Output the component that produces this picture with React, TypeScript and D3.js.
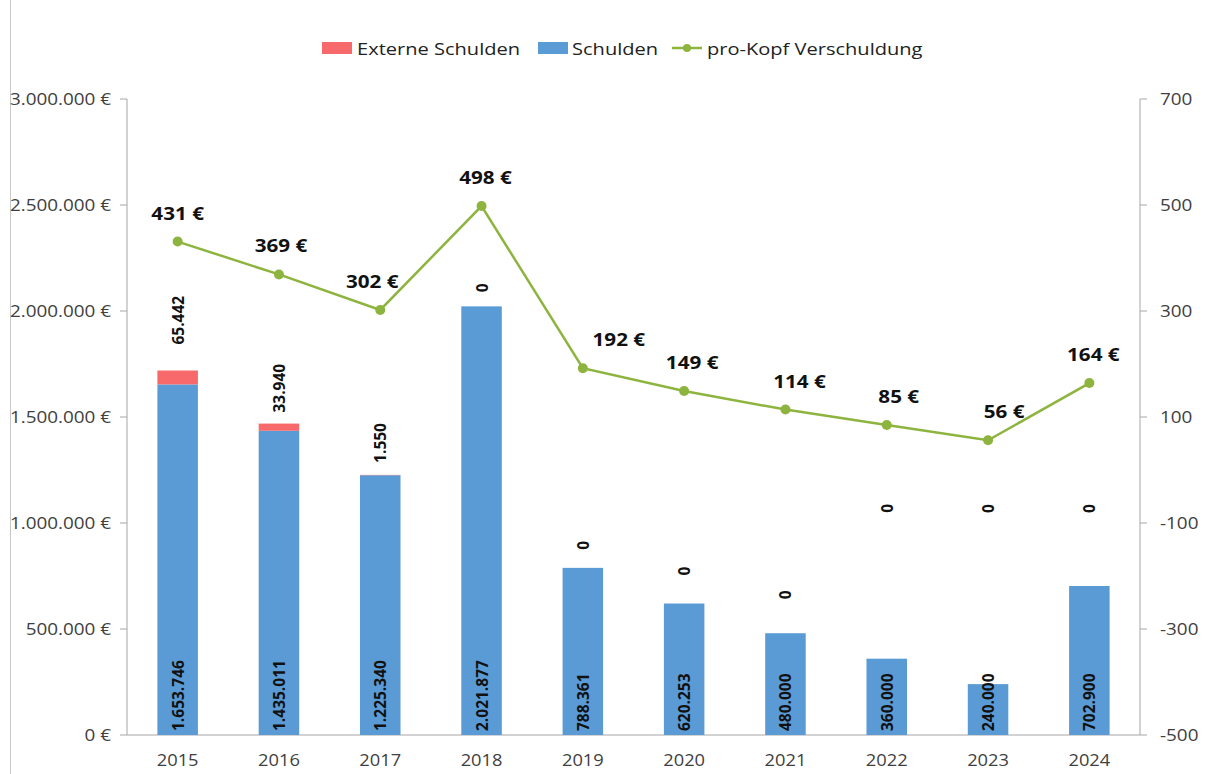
import React from "react";
import * as d3 from "d3";

const years = ["2015", "2016", "2017", "2018", "2019", "2020", "2021", "2022", "2023", "2024"];
const schulden = [1653746, 1435011, 1225340, 2021877, 788361, 620253, 480000, 360000, 240000, 702900];
const externe = [65442, 33940, 1550, 0, 0, 0, 0, 0, 0, 0];
const proKopf = [431, 369, 302, 498, 192, 149, 114, 85, 56, 164];
const leftTicks = [0, 500000, 1000000, 1500000, 2000000, 2500000, 3000000];
const rightTicks = [-500, -300, -100, 100, 300, 500, 700];

// label placement tweaks (pixels), matching the manually moved labels in the reference
const extLabelLift = [26, 11, 12, 14, 18, 28, 34, 146, 171, 73];
const kopfLabelDx = [0, 2, -8, 4, 36, 8, 14, 12, 16, 4];

const fmt = (v: number) => v.toLocaleString("de-DE");
const FONT = "'Open Sans', Lato, sans-serif";
const SX = 1.18;

function HText(props: {
  x: number;
  y: number;
  size: number;
  anchor?: "start" | "middle" | "end";
  bold?: boolean;
  fill: string;
  children: React.ReactNode;
}) {
  return (
    <text
      transform={`translate(${props.x},${props.y}) scale(${SX},1)`}
      textAnchor={props.anchor || "start"}
      fontSize={props.size}
      fontWeight={props.bold ? "bold" : "normal"}
      fill={props.fill}
    >
      {props.children}
    </text>
  );
}

export default function App() {
  const W = 1208, H = 774;
  const left = 127, right = 1140, top = 99, bottom = 735;
  const x = d3.scaleBand<string>().domain(years).range([left, right]).paddingInner(0.6).paddingOuter(0.3);
  const xc = (y: string) => (x(y) as number) + x.bandwidth() / 2;
  const yL = d3.scaleLinear().domain([0, 3000000]).range([bottom, top]);
  const yR = d3.scaleLinear().domain([-500, 700]).range([bottom, top]);
  const line = d3.line<number>().x((_, i) => xc(years[i])).y((d) => yR(d));
  const red = "#f7696b";
  const blue = "#5b9bd5";
  const green = "#8db43e";
  const axisCol = "#a6a6a6";
  const textCol = "#404040";

  return (
    <svg width={W} height={H} style={{ position: "absolute", left: 0, top: 0, background: "#fff" }} fontFamily={FONT}>
      <rect x={0} y={0} width={W} height={H} fill="#fff" />
      <line x1={10.5} x2={10.5} y1={0} y2={H} stroke="#c8c8c8" />
      {/* legend */}
      <rect x={322} y={42} width={30} height={12} fill={red} />
      <HText x={357} y={55} size={17} fill="#222">Externe Schulden</HText>
      <rect x={538} y={42} width={30} height={12} fill={blue} />
      <HText x={572} y={55} size={17} fill="#222">Schulden</HText>
      <line x1={672} x2={702} y1={48} y2={48} stroke={green} strokeWidth={2.5} />
      <circle cx={687} cy={48} r={4} fill={green} />
      <HText x={707} y={55} size={17} fill="#222">pro-Kopf Verschuldung</HText>
      {/* left axis */}
      <line x1={left} x2={left} y1={top} y2={bottom} stroke={axisCol} />
      {leftTicks.map((t) => (
        <g key={t}>
          <line x1={left - 7} x2={left} y1={yL(t)} y2={yL(t)} stroke={axisCol} />
          <HText x={111} y={yL(t) + 6} anchor="end" size={16} fill={textCol}>
            {fmt(t)} €
          </HText>
        </g>
      ))}
      {/* right axis */}
      <line x1={right} x2={right} y1={top} y2={bottom} stroke={axisCol} />
      {rightTicks.map((t) => (
        <g key={t}>
          <line x1={right} x2={right + 7} y1={yR(t)} y2={yR(t)} stroke={axisCol} />
          <HText x={1160} y={yR(t) + 6} size={16} fill={textCol}>
            {t}
          </HText>
        </g>
      ))}
      {/* bottom axis */}
      <line x1={left} x2={right} y1={bottom} y2={bottom} stroke={axisCol} />
      {years.map((y) => (
        <HText key={y} x={xc(y)} y={766} anchor="middle" size={15.5} fill={textCol}>
          {y}
        </HText>
      ))}
      {/* bars */}
      {years.map((y, i) => {
        const x0 = x(y) as number;
        const s = schulden[i];
        const e = externe[i];
        return (
          <g key={y}>
            <rect x={x0} y={yL(s)} width={x.bandwidth()} height={yL(0) - yL(s)} fill={blue} />
            {e > 0 && <rect x={x0} y={yL(s + e)} width={x.bandwidth()} height={yL(s) - yL(s + e)} fill={red} />}
          </g>
        );
      })}
      {/* bar labels */}
      {years.map((y, i) => {
        const cx = xc(y);
        const topY = yL(schulden[i] + externe[i]) - extLabelLift[i];
        return (
          <g key={"l" + y} fontSize={15.5} fontWeight="bold" fill="#111">
            <text transform={`translate(${cx + 6},${731}) rotate(-90)`}>{fmt(schulden[i])}</text>
            <text transform={`translate(${cx + 6},${topY}) rotate(-90)`}>{fmt(externe[i])}</text>
          </g>
        );
      })}
      {/* line */}
      <path d={line(proKopf) as string} fill="none" stroke={green} strokeWidth={2.5} />
      {proKopf.map((v, i) => (
        <circle key={"c" + i} cx={xc(years[i])} cy={yR(v)} r={5} fill={green} />
      ))}
      {proKopf.map((v, i) => (
        <HText
          key={"t" + i}
          x={xc(years[i]) + kopfLabelDx[i]}
          y={yR(v) - 22}
          anchor="middle"
          size={17.5}
          bold
          fill="#111"
        >
          {v} €
        </HText>
      ))}
    </svg>
  );
}
